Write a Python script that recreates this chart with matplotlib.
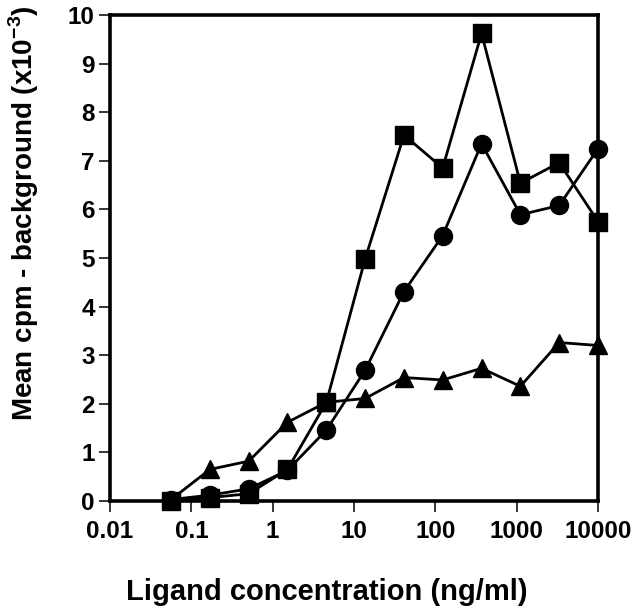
import matplotlib
matplotlib.use("Agg")
import matplotlib.pyplot as plt
from matplotlib.ticker import FixedLocator, FixedFormatter, NullLocator

plt.rcParams['font.family'] = ['Liberation Sans', 'DejaVu Sans']
plt.rcParams['font.weight'] = 'bold'
plt.rcParams['mathtext.fontset'] = 'custom'
plt.rcParams['mathtext.bf'] = 'Liberation Sans:bold'
plt.rcParams['mathtext.rm'] = 'Liberation Sans:bold'

conc = [0.0564, 0.169, 0.508, 1.52, 4.57, 13.7, 41.2, 123, 370, 1111, 3333, 10000]
squares = [0.0, 0.07, 0.15, 0.65, 2.03, 4.98, 7.53, 6.85, 9.62, 6.54, 6.96, 5.75]
circles = [0.03, 0.12, 0.25, 0.63, 1.46, 2.69, 4.31, 5.46, 7.35, 5.89, 6.08, 7.25]
triangles = [0.03, 0.65, 0.82, 1.62, 2.03, 2.11, 2.54, 2.49, 2.73, 2.36, 3.26, 3.2]

xticks = [0.01, 0.1, 1, 10, 100, 1000, 10000]
xticklabels = ['0.01', '0.1', '1', '10', '100', '1000', '10000']
yticks = [0, 1, 2, 3, 4, 5, 6, 7, 8, 9, 10]

fig = plt.figure(figsize=(6.4, 6.16), dpi=100)
ax = fig.add_axes([0.1719, 0.1867, 0.7625, 0.789])

common = dict(color='black', linewidth=2.0, clip_on=False, zorder=3)
ax.plot(conc, triangles, marker='^', markersize=13, **common)
ax.plot(conc, circles, marker='o', markersize=13, **common)
ax.plot(conc, squares, marker='s', markersize=13, **common)

ax.set_xscale('log')
ax.set_xlim(0.01, 10000)
ax.set_ylim(0, 10)
ax.xaxis.set_major_locator(FixedLocator(xticks))
ax.xaxis.set_major_formatter(FixedFormatter(xticklabels))
ax.xaxis.set_minor_locator(NullLocator())
ax.set_yticks(yticks)
ax.set_yticklabels([str(v) for v in yticks])

for s in ax.spines.values():
    s.set_linewidth(2.6)
ax.tick_params(axis='both', which='major', direction='out', length=8, width=1.1,
               labelsize=17.5, top=False, right=False)
ax.tick_params(axis='x', pad=6)
ax.tick_params(axis='y', pad=3)
for lab in ax.get_xticklabels() + ax.get_yticklabels():
    lab.set_fontweight('bold')

fig.text(327 / 640, 1 - 592 / 616, 'Ligand concentration (ng/ml)', fontsize=21,
         fontweight='bold', ha='center', va='center')
fig.text(24 / 640, 1 - 213 / 616, r'Mean cpm - background (x10$^{\mathbf{-3}}$)',
         fontsize=20, fontweight='bold', ha='center', va='center', rotation=90)

fig.savefig('out.png', dpi=100)
